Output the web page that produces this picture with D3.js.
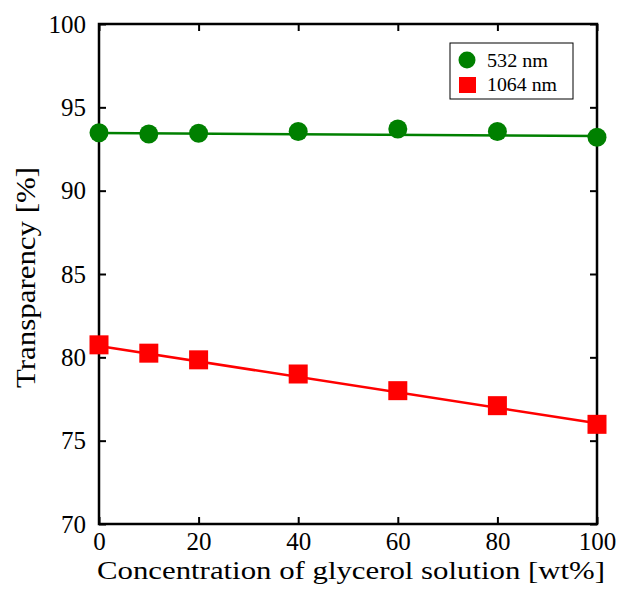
<!DOCTYPE html>
<html>
<head>
<meta charset="utf-8">
<script src="https://cdn.jsdelivr.net/npm/d3@7"></script>
<style>
  body { margin: 0; background: #fff; }
  svg text { font-family: "Liberation Serif", "Times New Roman", serif; fill: #000; }
</style>
</head>
<body>
<div id="chart"></div>
<script>
// data
const concentration = [0, 10, 20, 40, 60, 80, 100];
const green532 = [93.48, 93.4, 93.45, 93.55, 93.7, 93.55, 93.2];
const red1064 = [80.75, 80.25, 79.85, 79.0, 78.0, 77.1, 75.98];
// fitted lines (endpoints at 0 and 100 wt%)
const fitX = [0, 100];
const fitGreen = [93.46, 93.28];
const fitRed = [80.68, 76.04];
const xTicks = [0, 20, 40, 60, 80, 100];
const yTicks = [70, 75, 80, 85, 90, 95, 100];

const width = 619, height = 589;
const margin = {top: 24, right: 22, bottom: 65, left: 99};
const w = width - margin.left - margin.right;
const h = height - margin.top - margin.bottom;

const svg = d3.select("#chart").append("svg")
    .attr("width", width)
    .attr("height", height);

const g = svg.append("g")
    .attr("transform", `translate(${margin.left},${margin.top})`);

const x = d3.scaleLinear().domain([0, 100]).range([0, w]);
const y = d3.scaleLinear().domain([70, 100]).range([h, 0]);

// fit lines
const line = d3.line().x(d => x(d[0])).y(d => y(d[1]));
g.append("path")
    .datum(fitX.map((v, i) => [v, fitGreen[i]]))
    .attr("fill", "none").attr("stroke", "#008000").attr("stroke-width", 2.5)
    .attr("d", line);
g.append("path")
    .datum(fitX.map((v, i) => [v, fitRed[i]]))
    .attr("fill", "none").attr("stroke", "#ff0000").attr("stroke-width", 2.5)
    .attr("d", line);

// axes with inward ticks on all four sides
const tickLen = 7;
const axisStyle = sel => {
    sel.select(".domain").remove();
    sel.selectAll("line").attr("stroke", "#000").attr("stroke-width", 2);
    sel.selectAll("text").attr("font-size", 25).style("font-family", "Liberation Serif, serif");
};

g.append("g")
    .attr("transform", `translate(0,${h})`)
    .call(d3.axisBottom(x).tickValues(xTicks).tickSize(-tickLen).tickPadding(8))
    .call(axisStyle);
g.append("g")
    .call(d3.axisTop(x).tickValues(xTicks).tickSize(-tickLen).tickFormat(""))
    .call(axisStyle);
g.append("g")
    .call(d3.axisLeft(y).tickValues(yTicks).tickSize(-tickLen).tickPadding(13))
    .call(axisStyle);
g.append("g")
    .attr("transform", `translate(${w},0)`)
    .call(d3.axisRight(y).tickValues(yTicks).tickSize(-tickLen).tickFormat(""))
    .call(axisStyle);

g.append("rect")
    .attr("width", w).attr("height", h)
    .attr("fill", "none").attr("stroke", "#000").attr("stroke-width", 2.5);

// markers
g.selectAll(".dot")
    .data(concentration.map((c, i) => [c, green532[i]]))
    .join("circle")
    .attr("class", "dot")
    .attr("cx", d => x(d[0])).attr("cy", d => y(d[1]))
    .attr("r", 9.5)
    .attr("fill", "#008000");

const sq = 19;
g.selectAll(".sq")
    .data(concentration.map((c, i) => [c, red1064[i]]))
    .join("rect")
    .attr("class", "sq")
    .attr("x", d => x(d[0]) - sq / 2).attr("y", d => y(d[1]) - sq / 2)
    .attr("width", sq).attr("height", sq)
    .attr("fill", "#ff0000");

// legend
const legend = svg.append("g").attr("transform", "translate(450,43)");
legend.append("rect")
    .attr("width", 123).attr("height", 56)
    .attr("fill", "#fff").attr("stroke", "#000").attr("stroke-width", 1);
legend.append("circle").attr("cx", 17).attr("cy", 17).attr("r", 8.5).attr("fill", "#008000");
legend.append("text").attr("x", 37).attr("y", 23.5).attr("font-size", 18)
    .attr("textLength", 61).attr("lengthAdjust", "spacingAndGlyphs").text("532 nm");
legend.append("rect").attr("x", 9).attr("y", 34).attr("width", 17).attr("height", 16).attr("fill", "#ff0000");
legend.append("text").attr("x", 37).attr("y", 48).attr("font-size", 18)
    .attr("textLength", 70).attr("lengthAdjust", "spacingAndGlyphs").text("1064 nm");

// axis titles
svg.append("text")
    .attr("x", 97).attr("y", 579)
    .attr("font-size", 26)
    .attr("textLength", 508).attr("lengthAdjust", "spacingAndGlyphs")
    .text("Concentration of glycerol solution [wt%]");
svg.append("text")
    .attr("transform", "translate(35,388) rotate(-90)")
    .attr("font-size", 28)
    .attr("textLength", 221).attr("lengthAdjust", "spacingAndGlyphs")
    .text("Transparency [%]");
</script>
</body>
</html>
